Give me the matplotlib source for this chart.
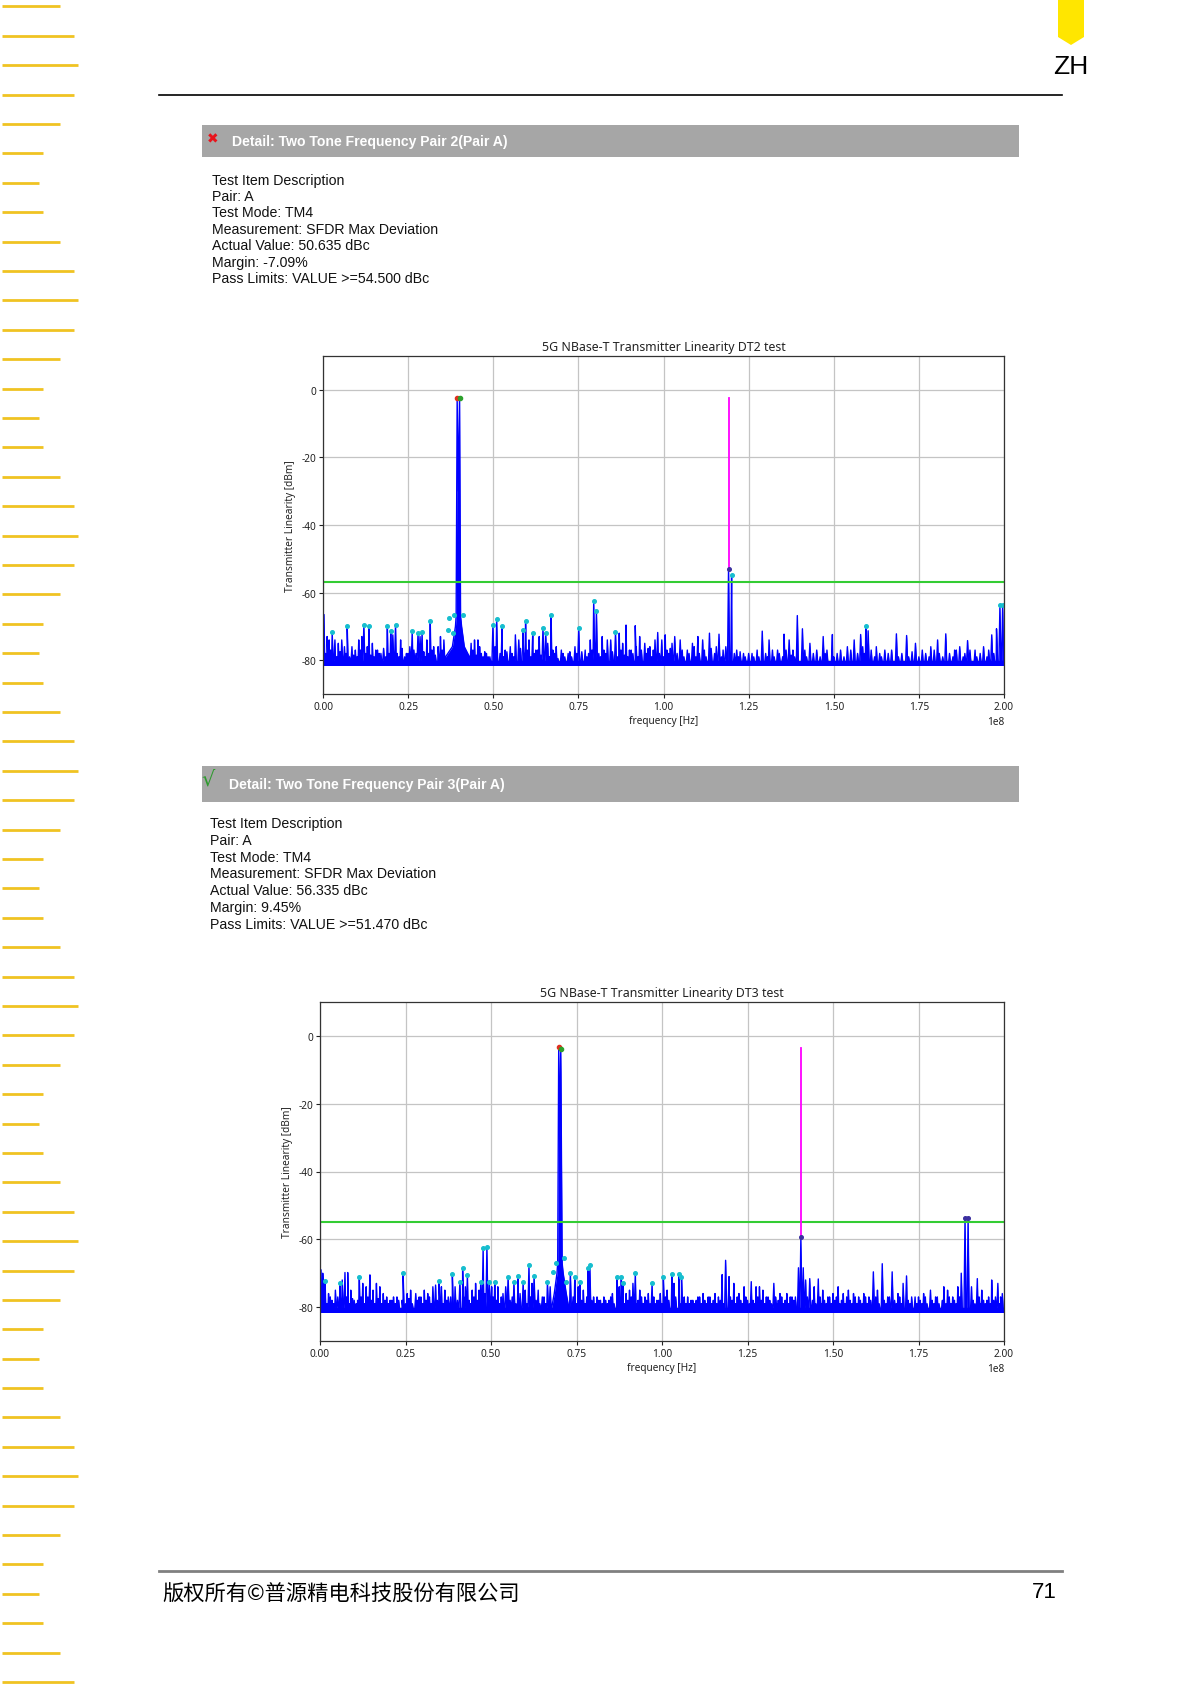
import numpy as np
import matplotlib
matplotlib.use("Agg")
import matplotlib.pyplot as plt

plt.rcParams['axes.unicode_minus'] = False

W, H = 1197, 1690

# ---- data (frequency in MHz, level in dBm) ----
noise_floor = -81.0

# DT2 test
dt2_tone_f = [36.0, 38.0, 38.9, 39.1, 39.4, 39.75, 40.1, 40.4, 40.7, 41.5, 43.0]
dt2_tone_db = [-79, -76, -70, -67, -2.5, -30, -2.5, -67, -70, -76, -79]
dt2_marked_f = [2.7, 7.1, 12.0, 13.5, 18.9, 19.9, 21.3, 26.2, 27.9, 29.1, 31.5, 36.7, 37.0,
                38.2, 38.5, 41.1, 49.9, 51.0, 52.6, 58.7, 59.5, 61.6, 64.6, 65.4, 67.0, 75.1,
                79.5, 80.3, 85.9, 120.0, 159.4, 198.8, 199.6]
dt2_marked_db = [-71.8, -69.8, -69.6, -69.8, -69.8, -71.3, -69.6, -71.5, -72, -71.8, -68.5, -71,
                 -67.5, -72, -66.6, -66.6, -69.6, -67.8, -70, -71, -68.5, -72, -70.5, -72, -66.6,
                 -70.5, -62.4, -65.4, -71.8, -54.7, -69.8, -63.8, -63.8]
dt2_spur_f = [0.3, 1.2, 1.8, 3.5, 4.5, 5.5, 6.3, 8.5, 9.5, 10.5, 11.4, 14.5, 15.5, 16.5, 20.5,
              22.8, 24.5, 25.5, 28.5, 30.5, 32.5, 34.5, 35.5, 42.5, 43.5, 44.5, 45.5, 46.5, 48.5,
              53.5, 55.0, 56.5, 57.5, 60.5, 62.5, 63.5, 66.0, 68.5, 70.0, 72.0, 74.0, 77.0, 78.5,
              82.0, 83.5, 84.5, 87.0, 88.0, 89.0, 90.5, 91.7, 93.0, 94.5, 96.0, 97.5, 98.3, 99.5,
              100.5, 102.5, 103.3, 104.9, 107.0, 108.5, 110.1, 111.5, 113.5, 115.5, 116.3, 118.3,
              119.1, 121.5, 123.5, 126.0, 129.0, 131.0, 133.5, 135.4, 136.9, 139.3, 140.8, 143.0,
              146.9, 149.6, 152.0, 154.0, 156.0, 157.9, 160.1, 162.5, 165.0, 168.4, 171.4, 174.0,
              176.0, 178.5, 180.5, 182.9, 185.5, 187.0, 189.3, 191.5, 194.0, 196.4, 197.8]
dt2_spur_db = [-66.5, -73, -74, -74, -75, -74, -76, -76, -77, -74, -73, -75, -77, -78, -72.5,
               -74, -78, -76, -73, -74, -76, -73, -74, -73, -75, -74, -74, -78, -79,
               -77, -76, -72.5, -74, -74, -77, -73, -75, -76, -77, -78, -76, -77, -74,
               -73, -74, -74, -72, -75, -69.6, -77, -69.8, -73, -75, -76, -74, -71.8, -74,
               -72.5, -75, -73, -74, -77, -75, -73, -74, -72, -76, -72.3, -76,
               -53, -77, -78, -78, -71.4, -74, -77, -72.3, -74, -66.8, -70.7, -75,
               -73, -72.4, -77, -76, -74, -72.4, -71.3, -76, -77, -72.2, -72.7, -75,
               -77, -76, -74, -72.2, -77, -76, -74.2, -77, -76, -72.5, -70.7]
dt2_grass = [(0.8, -78), (2.2, -77), (4.0, -79), (5.0, -77.5), (6.8, -78), (7.8, -79), (9.0, -78.5),
             (10.0, -79), (11.0, -77), (12.6, -78), (13.0, -76), (14.0, -78.5), (15.0, -79),
             (16.0, -77), (17.0, -78), (17.8, -76.5), (18.4, -79), (19.4, -78), (20.0, -77),
             (21.8, -78), (22.3, -79), (23.2, -76.5), (24.0, -79), (25.0, -78), (26.7, -77),
             (27.3, -78), (29.6, -77.5), (30.0, -79), (31.0, -78), (32.0, -77), (33.0, -78.5),
             (33.8, -76), (34.0, -79), (35.0, -77), (42.0, -76), (43.0, -78), (44.0, -77),
             (45.0, -78.5), (46.0, -76), (47.0, -79), (47.5, -77.5), (48.0, -78), (49.0, -79),
             (50.5, -76), (52.0, -78), (53.0, -79), (54.0, -77.5), (55.5, -78), (56.0, -79),
             (58.0, -76.5), (59.0, -78), (60.0, -77), (61.0, -79), (62.0, -78), (63.0, -77),
             (64.0, -78.5), (66.5, -79), (67.5, -77), (68.0, -78), (69.0, -79.5), (70.5, -78),
             (71.0, -79), (72.5, -77.5), (73.0, -79), (74.5, -78), (76.0, -77.5), (77.5, -79),
             (78.0, -78), (79.0, -77), (81.0, -78), (81.5, -79), (82.5, -77), (83.0, -78),
             (85.0, -77.5), (86.5, -79), (87.5, -77), (88.5, -78.5), (89.5, -79), (90.0, -77),
             (91.0, -78), (92.0, -76), (92.5, -79), (93.5, -77), (95.0, -78), (95.5, -76.5),
             (96.5, -79), (97.0, -77), (98.8, -78), (100.0, -79), (101.0, -77), (101.5, -78),
             (102.0, -76.5), (104.0, -78), (105.5, -77), (106.0, -79), (107.5, -78), (109.0, -76),
             (109.5, -79), (110.5, -78), (112.0, -77), (112.5, -79), (114.0, -76.5), (115.0, -78),
             (117.0, -79), (117.5, -77), (119.8, -77), (120.8, -78), (122.0, -79), (122.5, -77.5),
             (124.0, -79), (125.0, -78), (126.5, -79), (127.5, -77), (128.0, -79), (130.0, -78),
             (130.5, -79), (132.0, -77), (132.5, -79), (134.0, -78), (135.0, -79), (136.0, -77),
             (137.5, -78.5), (138.0, -77), (138.5, -79), (141.5, -77), (142.0, -79), (144.0, -78),
             (145.0, -77), (146.0, -79), (147.5, -78), (148.0, -77), (150.0, -79), (151.0, -78),
             (153.0, -79), (155.0, -77), (157.0, -78), (158.5, -76), (159.0, -78), (161.0, -77),
             (162.0, -79), (163.5, -78), (164.0, -79), (166.0, -78), (167.0, -77), (169.0, -79),
             (170.0, -78), (172.0, -79), (173.0, -77.5), (175.0, -79), (177.0, -78), (178.0, -79),
             (179.5, -77), (181.0, -78), (182.0, -79), (184.0, -78), (185.0, -79), (186.0, -77),
             (188.0, -79), (188.5, -78), (190.0, -77), (192.0, -79), (193.0, -78), (195.0, -79),
             (195.5, -77), (197.0, -78), (198.0, -76)]
dt2_peak_red = (39.4, -2.5)
dt2_peak_green = (40.1, -2.5)
dt2_dark_f = [119.1]
dt2_dark_db = [-53]
dt2_magenta = (119.1, -53, -2.3)
dt2_limit = -57

# DT3 test
dt3_tone_f = [67.5, 68.5, 69.3, 69.5, 69.8, 70.1, 70.4, 70.8, 71.1, 72.0, 73.0]
dt3_tone_db = [-79, -76, -70, -67, -3.3, -30, -3.8, -67, -70, -76, -79]
dt3_marked_f = [1.5, 5.8, 11.5, 24.3, 34.8, 38.7, 40.9, 41.7, 43.1, 47.0, 47.7, 48.8, 49.5, 51.1,
                55.0, 56.7, 57.9, 59.4, 61.1, 62.6, 66.5, 68.2, 68.9, 71.3, 71.9, 73.2, 74.5,
                76.0, 78.4, 78.9, 86.9, 88.1, 88.6, 92.2, 97.1, 100.4, 102.9, 104.9, 105.7]
dt3_marked_db = [-72.4, -73, -71, -70, -72.3, -70.3, -72.5, -68.5, -70.6, -72.5, -62.6, -62.3,
                 -72.5, -72.5, -71, -72.5, -70.8, -72.5, -67.6, -70.8, -72.5, -69.6, -67, -65.6,
                 -72.7, -69.8, -71, -72.5, -68.4, -67.5, -71, -71, -73, -70, -73, -71, -70.2,
                 -70.2, -71.2]
dt3_spur_f = [0.3, 0.8, 2.5, 3.5, 4.5, 6.5, 7.3, 8.1, 9.0, 10.0, 12.5, 13.5, 14.6, 15.5, 16.5,
              17.5, 18.5, 19.5, 20.5, 21.5, 23.0, 25.5, 26.5, 28.0, 29.5, 30.5, 31.5, 33.0, 33.8,
              35.5, 36.5, 37.5, 39.5, 42.5, 44.5, 45.5, 46.5, 50.2, 52.0, 53.5, 54.3, 58.5, 60.0,
              62.0, 63.8, 65.0, 67.3, 75.5, 77.0, 80.0, 81.5, 83.0, 84.5, 85.5, 87.5, 89.5, 90.5,
              91.5, 93.5, 95.0, 96.0, 98.5, 99.5, 101.5, 103.5, 106.5, 108.5, 110.5, 112.0, 113.5,
              115.5, 117.6, 118.6, 119.6, 121.0, 122.5, 124.0, 126.1, 127.5, 128.5, 129.5, 131.0,
              132.7, 134.5, 136.5, 138.0, 139.9, 140.6, 141.3, 142.0, 143.2, 144.5, 145.7, 147.0,
              148.5, 150.0, 151.5, 153.0, 154.5, 156.0, 157.5, 159.0, 160.5, 161.8, 163.0, 164.4,
              166.0, 167.3, 169.0, 170.5, 171.5, 173.0, 175.0, 176.5, 178.5, 180.0, 182.4, 183.5,
              185.0, 186.5, 187.5, 188.6, 189.5, 190.5, 192.2, 193.5, 195.0, 196.4, 197.5, 198.2,
              199.5]
dt3_spur_db = [-69, -70, -76, -78, -75, -72, -69.8, -69.8, -75, -78, -73, -74, -70.5, -75, -73,
               -74, -76, -77, -78, -77, -78, -76, -75, -76, -77, -75, -76, -74, -73.5,
               -74, -75, -77, -74, -74, -75, -73, -75, -74, -74, -76, -74, -76, -75,
               -73, -75, -77, -74, -74, -75, -77, -78, -77, -78, -76, -74, -76, -75,
               -73, -75, -77, -76, -78, -76, -75, -73, -77, -78, -77, -76, -77,
               -76, -70.4, -66.2, -71, -73, -76, -74, -72.5, -74, -74, -75, -77,
               -73, -76, -76, -77, -68.4, -59.4, -68.4, -72, -71.6, -74, -71.7, -75,
               -77, -76, -74, -76, -75, -76, -77, -76, -77, -69.6, -75, -67.2,
               -77, -69.6, -76, -73, -70.8, -77, -77, -76, -75, -77, -74, -75,
               -77, -74, -70, -53.6, -53.6, -74, -71.6, -75, -78, -72, -77, -73,
               -76]
dt3_grass = [(1.1, -78), (2.0, -79), (3.0, -77), (4.0, -79), (5.2, -77), (6.0, -78), (7.8, -77),
             (8.6, -79), (9.5, -77.5), (10.6, -79), (11.0, -78), (12.0, -77), (13.0, -79),
             (14.0, -77), (15.0, -78), (16.0, -79), (17.0, -77.5), (18.0, -79), (19.0, -78),
             (20.0, -79), (21.0, -78), (22.0, -79), (22.5, -77), (24.0, -78), (25.0, -79),
             (26.0, -77.5), (27.0, -79), (28.5, -78), (29.0, -77), (30.0, -79), (31.0, -78),
             (32.0, -77), (32.5, -79), (34.3, -78), (35.0, -77), (36.0, -79), (37.0, -78),
             (38.2, -77), (39.0, -79), (40.2, -78), (42.0, -77), (43.6, -78), (44.0, -79),
             (45.0, -77), (46.0, -78), (48.2, -76), (50.6, -77), (51.6, -78), (52.5, -79),
             (53.0, -77), (55.6, -78), (56.2, -77), (57.3, -79), (58.0, -77), (59.9, -78),
             (60.5, -79), (61.6, -77), (63.2, -78), (64.3, -79), (65.5, -77), (66.0, -79),
             (74.0, -77), (75.0, -79), (76.5, -78), (77.5, -79), (78.0, -77), (79.5, -78),
             (80.5, -79), (81.0, -77), (82.0, -78), (82.5, -79), (83.5, -78), (84.0, -79),
             (85.0, -77), (86.0, -79), (87.0, -78), (88.0, -77), (89.0, -79), (90.0, -78),
             (91.0, -77), (92.7, -79), (93.0, -78), (94.0, -77), (94.5, -79), (95.5, -78),
             (96.5, -79), (97.6, -77), (98.0, -79), (99.0, -78), (100.0, -79), (101.0, -77),
             (102.0, -78), (103.0, -79), (104.0, -77), (105.2, -79), (106.0, -78), (107.0, -79),
             (107.5, -77), (108.0, -79), (109.0, -78), (109.5, -79), (110.0, -78), (111.0, -77),
             (111.5, -79), (112.5, -78), (113.0, -79), (114.0, -77), (114.5, -79), (115.0, -78),
             (116.0, -79), (116.5, -77), (117.0, -78), (118.0, -79), (120.0, -77), (120.5, -78),
             (121.5, -79), (122.0, -77), (123.0, -78), (123.5, -79), (124.5, -77), (125.0, -78),
             (125.5, -79), (126.6, -78), (127.0, -79), (128.0, -77), (129.0, -78), (130.0, -79),
             (130.5, -77), (131.5, -78), (132.0, -79), (133.2, -77), (133.5, -79), (134.0, -78),
             (135.0, -77), (135.5, -79), (136.0, -78), (137.0, -79), (137.5, -77), (138.5, -78),
             (139.0, -77), (142.5, -77), (144.0, -78), (145.0, -79), (146.2, -77), (146.5, -79),
             (147.5, -78), (148.0, -79), (149.0, -77), (149.5, -79), (150.5, -78), (151.0, -77),
             (152.0, -79), (152.5, -78), (153.5, -79), (154.0, -77), (155.0, -78), (155.5, -79),
             (156.5, -77), (157.0, -79), (158.0, -78), (158.5, -79), (159.5, -77), (160.0, -79),
             (161.0, -78), (162.5, -77), (163.5, -79), (165.0, -78), (165.5, -79), (166.5, -77),
             (168.0, -78), (168.5, -79), (169.5, -77), (170.0, -79), (172.0, -78), (172.5, -79),
             (174.0, -77), (174.5, -79), (175.5, -78), (176.0, -79), (177.0, -77), (177.5, -79),
             (179.0, -78), (179.5, -79), (180.5, -77), (181.0, -79), (182.0, -78), (183.0, -79),
             (184.0, -77), (184.5, -79), (185.5, -78), (186.0, -79), (187.0, -77), (191.0, -78),
             (191.5, -79), (192.7, -77), (193.0, -79), (194.0, -78), (194.5, -79), (195.5, -77),
             (196.0, -79), (197.0, -78), (198.7, -79), (199.0, -77)]
dt3_peak_red = (69.8, -3.3)
dt3_peak_green = (70.4, -3.8)
dt3_dark_f = [140.6, 188.6, 189.5]
dt3_dark_db = [-59.4, -53.6, -53.6]
dt3_magenta = (140.6, -59.4, -3.6)
dt3_limit = -55

# ---- page text ----
desc_pair2 = ["Test Item Description", "Pair: A", "Test Mode: TM4",
              "Measurement: SFDR Max Deviation", "Actual Value: 50.635 dBc",
              "Margin: -7.09%", "Pass Limits: VALUE >=54.500 dBc"]
desc_pair3 = ["Test Item Description", "Pair: A", "Test Mode: TM4",
              "Measurement: SFDR Max Deviation", "Actual Value: 56.335 dBc",
              "Margin: 9.45%", "Pass Limits: VALUE >=51.470 dBc"]
stripe_lengths = [58, 72, 76, 72, 58, 41, 37, 41]


def px_rect(l, t, r, b):
    return [l / W, 1 - b / H, (r - l) / W, (b - t) / H]


def spectrum(tone_f, tone_db, spur_f, spur_db, marked_f, marked_db, grass):
    pts = list(zip(tone_f, tone_db))
    tone_lo, tone_hi = min(tone_f), max(tone_f)
    spikes = list(zip(spur_f, spur_db)) + list(zip(marked_f, marked_db)) + list(grass)
    for f, v in spikes:
        if tone_lo <= f <= tone_hi:
            continue
        pts += [(f - 0.3, noise_floor), (f, v), (f + 0.3, noise_floor)]
    pts += [(0.0, noise_floor), (200.0, noise_floor)]
    pts.sort()
    x = np.array([p[0] for p in pts]) * 1e6
    y = np.array([p[1] for p in pts])
    return x, y


def draw_chart(rect, title, tone_f, tone_db, spur_f, spur_db, marked_f, marked_db, grass,
               red, green, dark_f, dark_db, magenta, limit):
    ax = fig.add_axes(rect)
    ax.set_xlim(0, 2e8)
    ax.set_ylim(-90, 10)
    ax.set_yticks([0, -20, -40, -60, -80])
    ax.set_xticks(np.arange(0, 2.01e8, 0.25e8))
    ax.grid(True, color='#c4c4c4', lw=0.9)
    ax.set_axisbelow(True)
    ax.fill_between([0, 2e8], noise_floor - 0.7, noise_floor + 0.7, color='#0000ff', lw=0)
    x, y = spectrum(tone_f, tone_db, spur_f, spur_db, marked_f, marked_db, grass)
    ax.fill_between(x, noise_floor, y, color='#0000ff', lw=0)
    ax.plot(x, y, color='#0000ff', lw=1.0)
    ax.axhline(limit, color='#33cc33', lw=1.5)
    ax.plot([magenta[0] * 1e6] * 2, [magenta[1], magenta[2]], color='#ff00ff', lw=1.3)
    ax.plot(np.array(marked_f) * 1e6, marked_db, 'o', color='#17becf', ms=2.6)
    ax.plot(np.array(dark_f) * 1e6, dark_db, 'o', color='#3b2fa0', ms=2.6)
    ax.plot(red[0] * 1e6, red[1], 'o', color='#e03020', ms=3)
    ax.plot(green[0] * 1e6, green[1], 'o', color='#2ca02c', ms=3)
    ax.set_title(title, fontsize=8.9, pad=4, family='Noto Sans', color='#222222')
    ax.set_xlabel('frequency [Hz]', fontsize=7.3, labelpad=2, family='Noto Sans', color='#222222')
    ax.set_ylabel('Transmitter Linearity [dBm]', fontsize=7.3, family='Noto Sans', color='#222222')
    ax.tick_params(labelsize=7.3, length=3, pad=2, colors='#222222')
    for lab in ax.get_xticklabels() + ax.get_yticklabels():
        lab.set_family('Noto Sans')
    ax.xaxis.get_offset_text().set_fontsize(7.3)
    ax.xaxis.get_offset_text().set_family('Noto Sans')
    for s in ax.spines.values():
        s.set_color('#333333')
        s.set_linewidth(0.9)
    return ax


fig = plt.figure(figsize=(W / 100, H / 100), dpi=100)
page = fig.add_axes([0, 0, 1, 1])
page.set_xlim(0, W)
page.set_ylim(H, 0)
page.axis('off')

# left margin stripes
for i in range(58):
    yy = 7.3 + 29.4 * i
    page.plot([2, 2 + stripe_lengths[i % 8]], [yy, yy], color='#f0c322', lw=2, solid_capstyle='butt')

# top right tab and ZH
page.fill([1058, 1084, 1084, 1071, 1058], [0, 0, 38, 46, 38], color='#ffe600', lw=0)
page.text(1071, 67, 'ZH', fontsize=19, ha='center', va='center', family='Liberation Sans')
page.plot([159, 1062], [96, 96], color='black', lw=1.2)

# section 1
page.add_patch(plt.Rectangle((202, 126), 817, 32, color='#a6a6a6', lw=0))
page.text(213, 139, '\u2716', color='#e8141c', fontsize=10, ha='center', va='center', family='DejaVu Sans')
page.text(232, 142, 'Detail: Two Tone Frequency Pair 2(Pair A)', color='white', fontsize=10.1,
          fontweight='bold', va='center', family='Liberation Sans')
for i, line in enumerate(desc_pair2):
    page.text(212, 180.5 + 16.4 * i, line, fontsize=10.2, va='center', family='Liberation Sans',
              color='#111111')

draw_chart(px_rect(323, 357, 1004, 695), '5G NBase-T Transmitter Linearity DT2 test',
           dt2_tone_f, dt2_tone_db, dt2_spur_f, dt2_spur_db, dt2_marked_f, dt2_marked_db, dt2_grass,
           dt2_peak_red, dt2_peak_green, dt2_dark_f, dt2_dark_db, dt2_magenta, dt2_limit)

# section 2
page.add_patch(plt.Rectangle((202, 767), 817, 36, color='#a6a6a6', lw=0))
page.text(208, 780, '\u221a', color='#2f9a2f', fontsize=15, ha='center', va='center', family='DejaVu Sans')
page.text(229, 785, 'Detail: Two Tone Frequency Pair 3(Pair A)', color='white', fontsize=10.1,
          fontweight='bold', va='center', family='Liberation Sans')
for i, line in enumerate(desc_pair3):
    page.text(210, 824 + 16.8 * i, line, fontsize=10.2, va='center', family='Liberation Sans',
              color='#111111')

draw_chart(px_rect(320, 1003, 1004, 1342), '5G NBase-T Transmitter Linearity DT3 test',
           dt3_tone_f, dt3_tone_db, dt3_spur_f, dt3_spur_db, dt3_marked_f, dt3_marked_db, dt3_grass,
           dt3_peak_red, dt3_peak_green, dt3_dark_f, dt3_dark_db, dt3_magenta, dt3_limit)

# footer
page.plot([159, 1062], [1572, 1572], color='#808080', lw=2)
page.text(162, 1594, '版权所有©普源精电科技股份有限公司', fontsize=15.3, va='center',
          family=['Noto Sans CJK SC', 'DejaVu Sans'])
page.text(1057, 1593, '71', fontsize=16, va='center', ha='right', family='Liberation Sans')

fig.savefig('out.png', dpi=100)
